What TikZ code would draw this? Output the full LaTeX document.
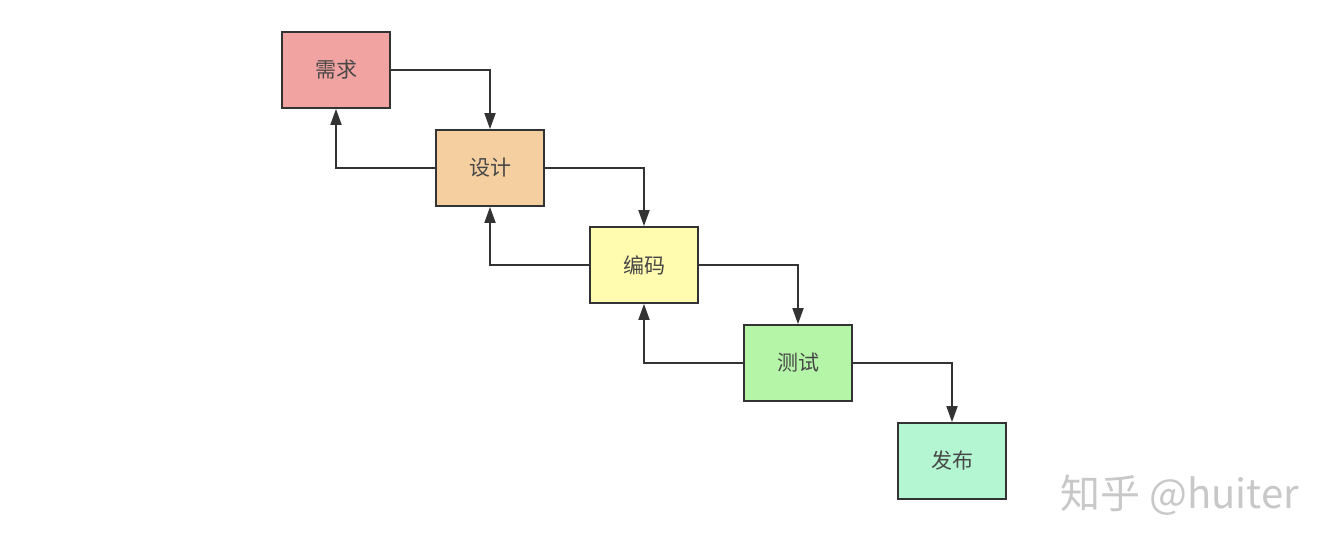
\documentclass[tikz,border=0pt]{standalone}
\usepackage{fontspec}
\newfontfamily\cjk{Noto Sans CJK SC}
\usetikzlibrary{arrows.meta}
\definecolor{cA}{RGB}{240,163,160}
\definecolor{cB}{RGB}{245,207,160}
\definecolor{cC}{RGB}{255,252,176}
\definecolor{cD}{RGB}{180,245,168}
\definecolor{cE}{RGB}{180,245,210}
\definecolor{edge}{RGB}{51,51,51}
\definecolor{wm}{RGB}{200,200,200}
\tikzset{
  box/.style={draw=edge, line width=1.8pt, minimum width=108pt, minimum height=76pt, inner sep=0pt,
    font=\cjk\fontsize{21}{24}\selectfont, text=edge!90},
  conn/.style={draw=edge, line width=1.8pt, -{Triangle[length=16pt,width=11pt]}},
}
\begin{document}
\begin{tikzpicture}[x=1pt,y=1pt]
\useasboundingbox (0,0) rectangle (1342,550);
\node[box, fill=cA] (n1) at (336,480) {需求};
\node[box, fill=cB] (n2) at (490,382) {设计};
\node[box, fill=cC] (n3) at (644,285) {编码};
\node[box, fill=cD] (n4) at (798,187) {测试};
\node[box, fill=cE] (n5) at (952,89) {发布};
\draw[conn] (n1.east) -| (n2.north);
\draw[conn] (n2.east) -| (n3.north);
\draw[conn] (n3.east) -| (n4.north);
\draw[conn] (n4.east) -| (n5.north);
\draw[conn] (n2.west) -| (n1.south);
\draw[conn] (n3.west) -| (n2.south);
\draw[conn] (n4.west) -| (n3.south);
\node[text=wm, font=\cjk\fontsize{40}{44}\selectfont, anchor=west, inner sep=0pt] (wm) at (1060,55) {知乎 @huiter};
\end{tikzpicture}
\end{document}
